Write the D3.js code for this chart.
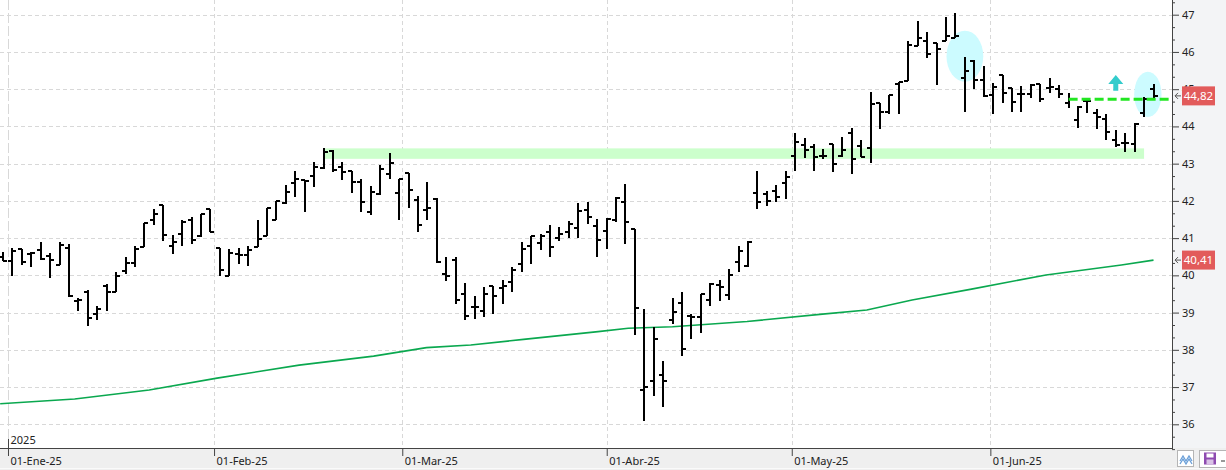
<!DOCTYPE html>
<html>
<head>
<meta charset="utf-8">
<script src="https://cdn.jsdelivr.net/npm/d3@7"></script>
<style>
  html, body { margin: 0; padding: 0; background: #fff; }
  svg { display: block; font-family: "Noto Sans", "DejaVu Sans", sans-serif; }
</style>
</head>
<body>
<svg id="chart" width="1226" height="470"></svg>
<script>
// daily OHLC, 31-Dec-24 .. late Jun-25 (one entry per session)
const opens = [40.48,40.38,40.71,40.57,40.67,40.51,40.28,40.73,39.32,39.56,38.97,39.72,39.55,40.12,40.33,40.77,41.48,41.88,40.78,41.10,41.48,41.05,41.77,40.73,39.97,
  40.57,40.55,40.75,41.05,41.50,41.95,42.49,42.56,42.66,42.87,43.35,42.90,42.80,42.50,41.71,42.19,42.71,42.20,42.74,42.02,41.75,42.04,40.03,40.40,39.49,
  39.16,39.03,39.72,39.65,39.81,40.30,40.78,40.86,41.16,41.01,41.17,41.26,41.76,41.32,41.18,41.49,41.96,41.24,36.92,37.15,37.32,38.79,39.25,38.92,38.87,
  39.33,39.75,39.46,40.36,40.25,42.20,42.19,42.27,42.47,43.20,43.49,43.44,43.21,43.52,43.21,43.82,43.47,43.41,44.62,44.40,45.13,45.22,46.17,46.29,46.23,
  46.30,46.37,45.29,45.77,45.25,44.84,45.39,45.02,44.87,44.87,45.14,45.02,45.00,44.64,44.17,44.67,44.35,44.20,43.64,43.55,43.53,44.35,45.00];
const highs = [40.62,40.73,40.71,40.64,40.89,40.61,40.89,40.84,39.38,39.60,39.17,39.76,40.08,40.49,40.78,41.40,41.78,41.88,41.08,41.50,41.57,41.64,41.77,40.74,40.71,
  40.73,40.78,41.49,41.80,42.01,42.43,42.80,42.57,43.04,43.41,43.37,43.04,42.80,42.60,42.39,42.97,43.28,42.60,42.74,42.12,42.50,42.07,40.48,40.48,39.79,
  39.45,39.69,39.72,39.88,40.23,40.90,41.06,41.11,41.35,41.29,41.46,41.94,41.97,41.51,41.53,42.10,42.45,41.24,39.09,38.60,37.70,39.39,39.55,38.95,39.50,
  39.79,39.88,40.17,40.79,40.91,42.80,42.27,42.43,42.80,43.82,43.69,43.52,43.38,43.52,43.71,43.95,43.64,44.92,44.62,44.84,45.20,46.29,46.83,46.53,46.23,
  46.93,47.04,45.87,45.78,45.62,45.16,45.39,45.02,45.09,45.13,45.14,45.29,45.12,44.91,44.55,44.73,44.48,44.33,43.90,43.81,44.08,44.80,45.14];
const lows = [40.39,39.97,40.28,40.22,40.40,39.94,40.28,39.41,39.03,38.65,38.79,39.03,39.55,40.03,40.22,40.75,41.34,40.93,40.58,40.80,40.85,41.03,41.17,39.97,39.97,
  40.31,40.26,40.75,41.05,41.50,41.91,42.11,41.71,42.36,42.86,42.77,42.57,42.22,41.71,41.62,42.16,42.59,41.50,41.82,41.17,41.49,40.32,39.85,39.22,38.80,
  38.84,38.87,38.95,39.24,39.56,40.10,40.31,40.69,40.48,40.91,41.01,41.01,41.38,40.48,40.72,41.43,40.84,38.40,36.10,36.76,36.47,38.69,37.84,38.30,38.45,
  39.17,39.32,39.33,40.10,40.23,41.77,41.87,41.98,42.05,42.81,43.16,42.81,43.13,42.78,43.19,42.73,43.17,43.03,43.94,44.34,44.34,45.22,46.17,45.83,45.12,
  46.30,46.37,44.40,45.00,44.80,44.32,44.62,44.40,44.40,44.77,44.65,44.89,44.75,44.49,43.95,44.35,43.94,43.63,43.44,43.32,43.30,44.26,44.71];
const closes = [40.39,40.66,40.35,40.60,40.44,40.40,40.82,39.44,39.34,38.86,39.10,39.55,39.97,40.33,40.71,41.40,41.64,41.08,40.89,41.44,40.94,41.64,41.17,40.14,40.60,
  40.55,40.68,40.97,41.80,42.00,42.25,42.59,42.54,42.92,43.31,42.82,42.77,42.50,41.96,42.25,42.86,43.01,42.59,42.29,41.35,41.81,40.35,39.97,39.34,38.91,
  39.14,39.50,39.44,39.71,40.14,40.70,41.06,41.06,40.76,41.11,41.38,41.72,41.56,40.94,41.51,42.07,41.42,39.12,36.99,38.28,37.15,39.01,38.01,38.88,39.50,
  39.77,39.68,40.00,40.65,40.90,41.96,42.00,42.10,42.64,43.57,43.36,43.17,43.21,42.98,43.36,43.12,43.19,44.59,44.40,44.84,45.18,46.18,46.37,45.95,46.08,
  46.44,46.44,45.48,45.25,44.83,45.05,44.91,44.66,44.86,45.10,44.74,45.05,44.87,44.73,44.53,44.67,44.26,43.86,43.49,43.56,44.07,44.73,44.82];

// 200-session moving average at a few bar positions
const maIdx = [-0.3, 7.6, 15.5, 22.7, 31.4, 39.3, 44.9, 49.6, 55.2, 63.1, 66.3, 71.0, 78.9, 86.9, 91.6, 96.4, 102.7, 110.6, 118.6, 122];
const maVal = [36.55, 36.68, 36.92, 37.24, 37.59, 37.83, 38.06, 38.13, 38.28, 38.49, 38.58, 38.62, 38.76, 38.96, 39.07, 39.34, 39.63, 40.01, 40.28, 40.41];

const monthPos = [0.53, 22.38, 42.34, 64.02, 83.64, 104.7];
const monthLabels = ["01-Ene-25", "01-Feb-25", "01-Mar-25", "01-Abr-25", "01-May-25", "01-Jun-25"];
const priceTicks = [36, 37, 38, 39, 40, 41, 42, 43, 44, 45, 46, 47];

// drawn annotations (bar index / price)
const zoneBars = [34, 121];
const zonePrice = [43.13, 43.41];
const breakoutBar = 113;
const breakoutLevel = 44.73;
const circleBars = [102.0, 121.4];
const circlePrice = [45.886, 44.86];
const circleBarSpan = [1.95, 1.45];
const circlePriceSpan = [0.685, 0.61];
const arrowBar = 118;
const arrowPrice = [44.96, 45.38];
const lastPrice = 44.82;
const lastMa = 40.41;

const W = 1226, H = 470, plotR = 1172, plotB = 448;
const svg = d3.select("#chart");

const x = d3.scaleLinear().domain([0, closes.length - 1]).range([3, 1153.5]);
const y = d3.scaleLinear().domain([36, 47]).range([424.3, 14.7]);
const fmt = d3.format(".2f");
const comma = function(v) { return fmt(v).replace(".", ","); };

svg.append("defs").append("clipPath").attr("id", "plot")
  .append("rect").attr("x", 0).attr("y", 0).attr("width", plotR).attr("height", plotB);

// panels
svg.append("rect").attr("width", W).attr("height", H).attr("fill", "#fff");
svg.append("rect").attr("x", plotR).attr("y", 0).attr("width", W - plotR).attr("height", plotB).attr("fill", "#f3f4f6");
svg.append("rect").attr("x", 0).attr("y", plotB).attr("width", W).attr("height", H - plotB).attr("fill", "#efefef");
svg.append("line").attr("x1", 0).attr("x2", W).attr("y1", 468.5).attr("y2", 468.5).attr("stroke", "#fafafa");

const plot = svg.append("g").attr("clip-path", "url(#plot)");

// grid
plot.append("g").selectAll("line").data(priceTicks).enter().append("line")
  .attr("x1", 0).attr("x2", plotR)
  .attr("y1", function(d) { return Math.round(y(d)) + 0.5; })
  .attr("y2", function(d) { return Math.round(y(d)) + 0.5; })
  .attr("stroke", "#d8d8d8").attr("stroke-dasharray", "4,3");

plot.append("g").selectAll("line").data(monthPos).enter().append("line")
  .attr("x1", function(d) { return Math.round(x(d)) + 0.5; })
  .attr("x2", function(d) { return Math.round(x(d)) + 0.5; })
  .attr("y1", 0).attr("y2", plotB)
  .attr("stroke", "#d8d8d8")
  .attr("stroke-dasharray", function(d, i) { return i === 0 ? "10,3" : "4,3"; });

// support zone + highlight circles
plot.append("rect")
  .attr("x", x(zoneBars[0])).attr("width", x(zoneBars[1]) - x(zoneBars[0]))
  .attr("y", y(zonePrice[1])).attr("height", y(zonePrice[0]) - y(zonePrice[1]))
  .attr("fill", "#ccffcc");

plot.append("g").selectAll("ellipse").data(circleBars).enter().append("ellipse")
  .attr("cx", function(d) { return x(d); })
  .attr("cy", function(d, i) { return y(circlePrice[i]); })
  .attr("rx", function(d, i) { return x(circleBarSpan[i]) - x(0); })
  .attr("ry", function(d, i) { return y(0) - y(circlePriceSpan[i]); })
  .attr("fill", "#ccfbff");

// moving average
plot.append("path")
  .datum(maIdx)
  .attr("fill", "none").attr("stroke", "#0aa84f").attr("stroke-width", 1.6)
  .attr("d", d3.line().x(function(d) { return x(d); }).y(function(d, i) { return y(maVal[i]); }));

// OHLC bars
const bars = plot.append("g").attr("shape-rendering", "crispEdges")
  .attr("stroke", "#000").attr("stroke-width", 2)
  .selectAll("g").data(closes).enter().append("g");

bars.append("line")
  .attr("x1", function(d, i) { return Math.round(x(i)); })
  .attr("x2", function(d, i) { return Math.round(x(i)); })
  .attr("y1", function(d, i) { return Math.round(y(highs[i])); })
  .attr("y2", function(d, i) { return Math.round(y(lows[i])); });
bars.append("line")
  .attr("x1", function(d, i) { return Math.round(x(i)) - 4; })
  .attr("x2", function(d, i) { return Math.round(x(i)); })
  .attr("y1", function(d, i) { return Math.round(y(opens[i])); })
  .attr("y2", function(d, i) { return Math.round(y(opens[i])); });
bars.append("line")
  .attr("x1", function(d, i) { return Math.round(x(i)); })
  .attr("x2", function(d, i) { return Math.round(x(i)) + 4; })
  .attr("y1", function(d) { return Math.round(y(d)); })
  .attr("y2", function(d) { return Math.round(y(d)); });

// breakout level
plot.append("line")
  .attr("x1", x(breakoutBar)).attr("x2", plotR)
  .attr("y1", y(breakoutLevel)).attr("y2", y(breakoutLevel))
  .attr("stroke", "#22e622").attr("stroke-width", 3).attr("stroke-dasharray", "9,4");

// up arrow
const ax = x(arrowBar), aTop = y(arrowPrice[1]), aBot = y(arrowPrice[0]);
plot.append("path")
  .attr("d", "M" + ax + "," + aTop + " L" + (ax + 7.5) + "," + (aTop + 9) + " L" + (ax + 2.5) + "," + (aTop + 9) +
    " L" + (ax + 2.5) + "," + aBot + " L" + (ax - 2.5) + "," + aBot + " L" + (ax - 2.5) + "," + (aTop + 9) +
    " L" + (ax - 7.5) + "," + (aTop + 9) + " Z")
  .attr("fill", "#33cccc");

// axes
const yAxisMinor = d3.axisRight(y)
  .tickValues(d3.range(35, 48.01, 1 / 3).filter(function(v) { return Math.abs(v - Math.round(v)) > 0.01 && v > 35.2; }))
  .tickSize(3).tickFormat("");
const yAxis = d3.axisRight(y).tickValues(priceTicks).tickSize(7).tickPadding(3).tickFormat(d3.format("d"));

const ya = svg.append("g").attr("transform", "translate(" + plotR + ",0)");
ya.append("g").call(yAxisMinor);
ya.append("g").call(yAxis);
ya.selectAll(".domain").remove();
ya.selectAll("line").attr("stroke", "#444");
ya.selectAll("text").attr("fill", "#222").attr("font-size", 11).attr("font-family", "Noto Sans, sans-serif");

const xAxis = d3.axisBottom(x).tickValues(monthPos).tickSize(8).tickPadding(1)
  .tickFormat(function(d, i) { return monthLabels[i]; });
const xa = svg.append("g").attr("transform", "translate(0," + plotB + ")").call(xAxis);
xa.select(".domain").remove();
xa.selectAll("line").attr("stroke", "#444");
xa.selectAll("text").attr("text-anchor", "start").attr("x", 2).attr("fill", "#222")
  .attr("font-size", 11).attr("font-family", "Noto Sans, sans-serif");

svg.append("line").attr("x1", 0).attr("x2", plotR).attr("y1", plotB + 0.5).attr("y2", plotB + 0.5).attr("stroke", "#444");
svg.append("line").attr("x1", plotR + 0.5).attr("x2", plotR + 0.5).attr("y1", 0).attr("y2", plotB + 1).attr("stroke", "#444");

// year marker
const yearX = Math.round(x(monthPos[0])) + 0.5;
svg.append("line").attr("x1", yearX).attr("x2", yearX).attr("y1", plotB - 9).attr("y2", plotB).attr("stroke", "#444");
svg.append("text").attr("x", yearX + 2).attr("y", plotB - 4).attr("font-size", 11).attr("fill", "#222").text("2025");

// value labels on the price axis
const tags = [lastPrice, lastMa];
const tag = svg.append("g").selectAll("g").data(tags).enter().append("g")
  .attr("transform", function(d) { return "translate(0," + y(d) + ")"; });
tag.append("rect").attr("x", 1182).attr("y", -9.5).attr("width", 33).attr("height", 19).attr("fill", "#e25b5b");
tag.append("text").attr("x", 1198.5).attr("y", 4).attr("text-anchor", "middle")
  .attr("font-size", 11.5).attr("fill", "#fff").text(function(d) { return comma(d); });
tag.append("path").attr("d", "M1181,0 L1175,0 M1178,-3 L1175,0 L1178,3")
  .attr("fill", "none").attr("stroke", "#555").attr("stroke-width", 1);

// bottom-right toolbar icons
const tb = svg.append("g");
tb.append("rect").attr("x", 1177.5).attr("y", 450.5).attr("width", 16).attr("height", 16)
  .attr("fill", "#fff").attr("stroke", "#b5b5b5");
tb.append("polyline").attr("points", "1180,461 1183,456 1186,461 1189,456 1192,461")
  .attr("fill", "none").attr("stroke", "#6a9fd8").attr("stroke-width", 1.3);
tb.append("polyline").attr("points", "1180,464 1183,459 1186,464 1189,459 1192,464")
  .attr("fill", "none").attr("stroke", "#6a9fd8").attr("stroke-width", 1.3);
tb.append("rect").attr("x", 1199.5).attr("y", 450.5).attr("width", 30).attr("height", 17)
  .attr("fill", "#fff").attr("stroke", "#b5b5b5");
tb.append("rect").attr("x", 1204).attr("y", 452.5).attr("width", 12).attr("height", 12).attr("fill", "#8e4bb0");
tb.append("rect").attr("x", 1206.5).attr("y", 453.5).attr("width", 7).attr("height", 4).attr("fill", "#fff");
tb.append("rect").attr("x", 1206.5).attr("y", 459.5).attr("width", 7).attr("height", 5).attr("fill", "#d9c3e6");
tb.append("line").attr("x1", 1221).attr("x2", 1225).attr("y1", 461).attr("y2", 461).attr("stroke", "#333");
</script>
</body>
</html>
